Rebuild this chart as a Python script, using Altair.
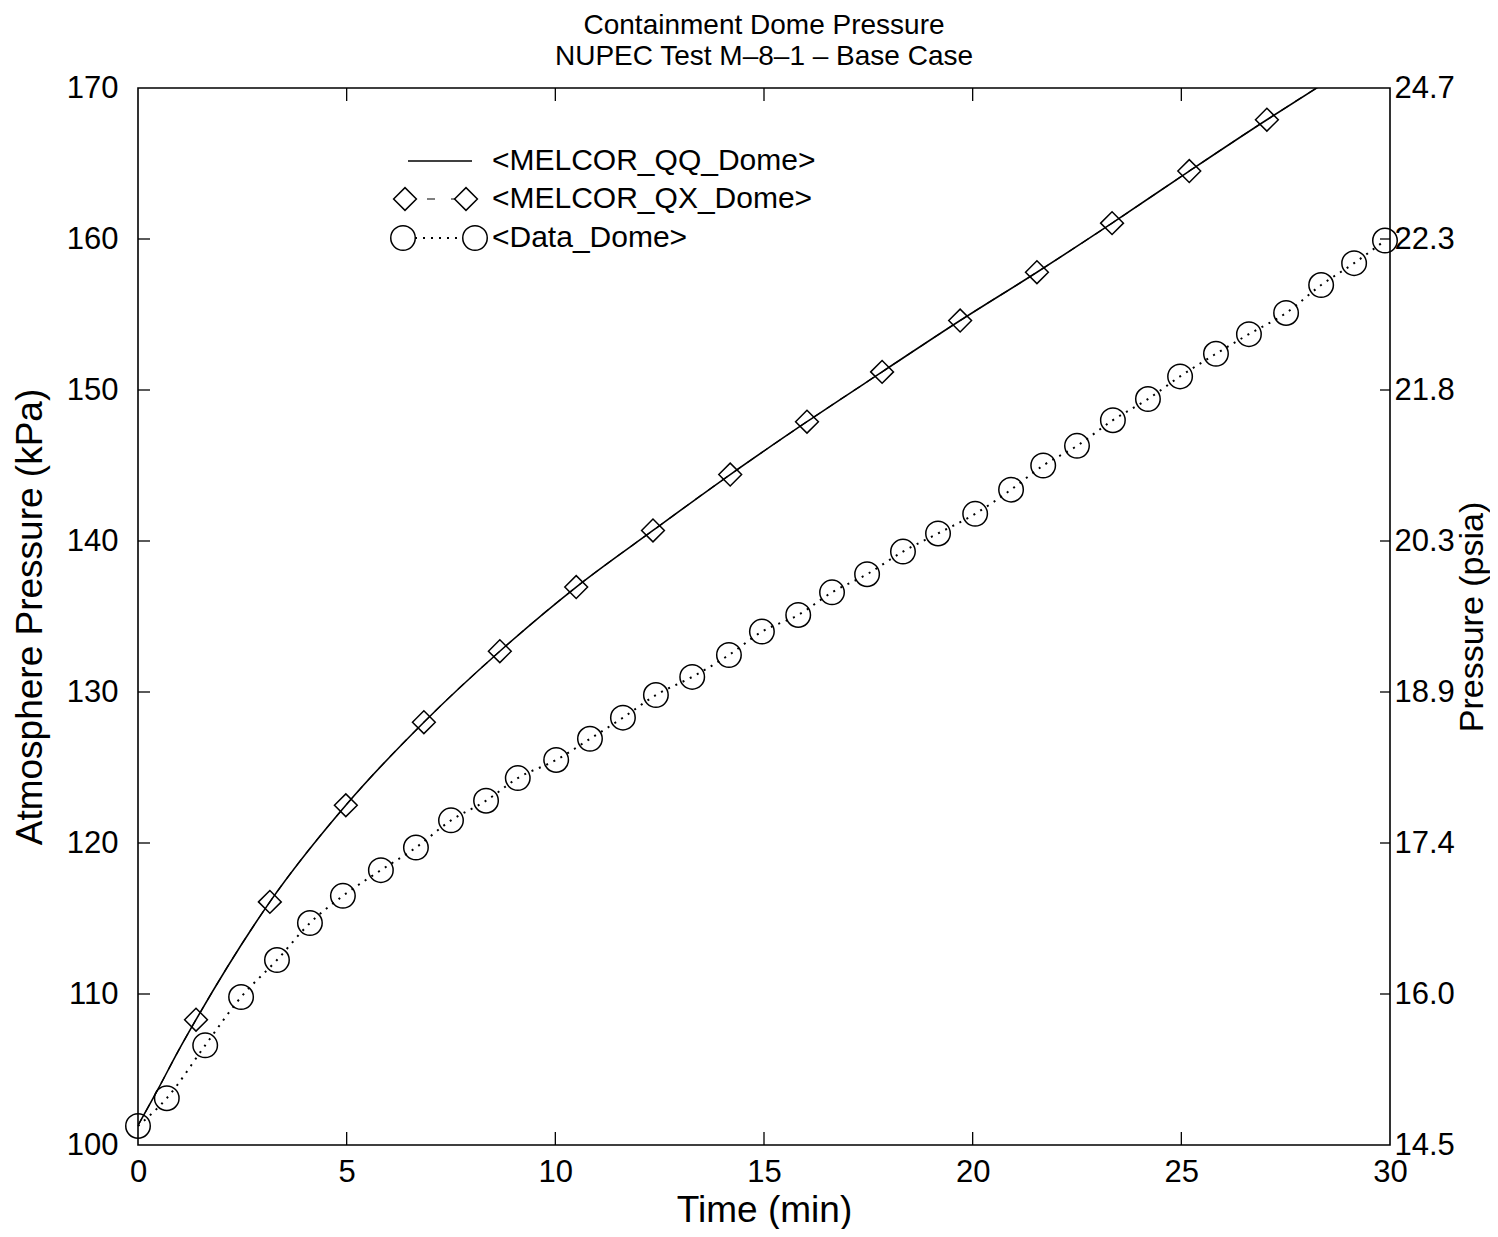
import json
import altair as alt
import pandas as pd

# ---------------- data ----------------
qq_time = [0.0, 0.48, 0.96, 1.39, 3.16, 4.98, 6.85, 8.67, 10.5, 12.34, 14.19,
           16.03, 17.83, 19.7, 21.54, 23.34, 25.19, 27.05, 28.3]
qq_kpa = [101.3, 103.7, 106.2, 108.3, 116.1, 122.5, 128.0, 132.7, 136.95, 140.7,
          144.4, 147.9, 151.2, 154.6, 157.8, 161.05, 164.5, 167.9, 170.1]

qx_time = [1.39, 3.16, 4.98, 6.85, 8.67, 10.5, 12.34, 14.19, 16.03, 17.83,
           19.7, 21.54, 23.34, 25.19, 27.05]
qx_kpa = [108.3, 116.1, 122.5, 128.0, 132.7, 136.95, 140.7, 144.4, 147.9, 151.2,
          154.6, 157.8, 161.05, 164.5, 167.9]

data_time = [0.0, 0.69, 1.61, 2.47, 3.33, 4.12, 4.91, 5.82, 6.66, 7.5, 8.34, 9.1,
             10.02, 10.83, 11.62, 12.41, 13.28, 14.16, 14.95, 15.82, 16.63, 17.47,
             18.33, 19.17, 20.06, 20.92, 21.69, 22.5, 23.36, 24.2, 24.97, 25.83,
             26.62, 27.51, 28.35, 29.14, 29.88]
data_kpa = [101.26, 103.1, 106.6, 109.8, 112.25, 114.7, 116.5, 118.2, 119.7, 121.5,
            122.8, 124.3, 125.5, 126.9, 128.3, 129.8, 131.0, 132.45, 134.0, 135.1,
            136.6, 137.8, 139.3, 140.5, 141.8, 143.4, 145.0, 146.3, 148.0, 149.4,
            150.9, 152.4, 153.7, 155.1, 156.95, 158.4, 159.9]

x_label_values = [0, 5, 10, 15, 20, 25, 30]
x_inner_ticks = [5, 10, 15, 20, 25]
kpa_label_values = [100, 110, 120, 130, 140, 150, 160, 170]
kpa_inner_ticks = [110, 120, 130, 140, 150, 160]
psia_labels = ["14.5", "16.0", "17.4", "18.9", "20.3", "21.8", "22.3", "24.7"]

series_names = ["<MELCOR_QQ_Dome>", "<MELCOR_QX_Dome>", "<Data_Dome>"]
title_lines = ["Containment Dome Pressure", "NUPEC Test M\u20138\u20131 \u2013 Base Case"]

# ---------------- layout / style ----------------
W, H = 1252, 1057
FONT = "Liberation Sans"

qq_df = pd.DataFrame({"t": qq_time, "p": qq_kpa})
qx_df = pd.DataFrame({"t": qx_time, "p": qx_kpa})
qxline_df = pd.DataFrame({"t": qq_time, "p": qq_kpa})
dd_df = pd.DataFrame({"t": data_time, "p": data_kpa})
xt_df = pd.DataFrame({"v": x_inner_ticks})
yt_df = pd.DataFrame({"v": kpa_inner_ticks})
one = pd.DataFrame({"d": [0]})

xs = alt.Scale(domain=[0, 30], nice=False, zero=False)
ys = alt.Scale(domain=[100, 170], nice=False, zero=False)

x_axis = alt.Axis(values=x_label_values, title="Time (min)", tickSize=0, domain=False,
                  grid=False, labelFontSize=31, titleFontSize=37, labelPadding=12,
                  titlePadding=5, labelFlush=False, labelOverlap=False, format="d",
                  labelFont=FONT, titleFont=FONT, labelColor="black", titleColor="black",
                  titleFontWeight="normal")
y_axis = alt.Axis(values=kpa_label_values, title="Atmosphere Pressure (kPa)", tickSize=0,
                  domain=False, grid=False, labelFontSize=31, titleFontSize=37,
                  labelPadding=20, titlePadding=17, labelOverlap=False, format="d",
                  labelFont=FONT, titleFont=FONT, labelColor="black", titleColor="black",
                  titleFontWeight="normal")
psia_expr = json.dumps(psia_labels) + "[round((datum.value-100)/10)]"
y_axis_r = alt.Axis(orient="right", values=kpa_label_values, labelExpr=psia_expr,
                    title="Pressure (psia)", tickSize=0, domain=False, grid=False,
                    labelFontSize=31, titleFontSize=34, labelPadding=4, titlePadding=35,
                    titleAngle=270, labelOverlap=False,
                    labelFont=FONT, titleFont=FONT, labelColor="black", titleColor="black",
                    titleFontWeight="normal")

X = alt.X("t:Q", scale=xs, axis=x_axis)

qq_line = alt.Chart(qq_df).mark_line(color="black", strokeWidth=1.6, clip=True,
                                     interpolate="monotone").encode(
    x=X, y=alt.Y("p:Q", scale=ys, axis=y_axis),
)
qx_line = alt.Chart(qxline_df).mark_line(color="black", strokeWidth=1.2, clip=True,
                                         strokeDash=[8, 8], interpolate="monotone").encode(
    x=X, y=alt.Y("p:Q", scale=ys, axis=None),
)
qx_pts = alt.Chart(qx_df).mark_point(shape="diamond", filled=False, size=520,
                                     color="black", strokeWidth=1.5, opacity=1).encode(
    x=X, y=alt.Y("p:Q", scale=ys, axis=None),
)
dd_line = alt.Chart(dd_df).mark_line(color="black", strokeWidth=2, strokeDash=[2, 6],
                                     interpolate="monotone").encode(
    x=X, y=alt.Y("p:Q", scale=ys, axis=None),
)
dd_pts = alt.Chart(dd_df).mark_point(shape="circle", filled=False, size=600,
                                     color="black", strokeWidth=1.5, opacity=1).encode(
    x=X, y=alt.Y("p:Q", scale=ys, axis=None),
)

# inward ticks
tick_style = dict(color="black", strokeWidth=1.3)
xt_bottom = alt.Chart(xt_df).mark_rule(**tick_style).encode(
    x=alt.X("v:Q", scale=xs, axis=x_axis), y=alt.value(H), y2=alt.value(H - 13))
xt_top = alt.Chart(xt_df).mark_rule(**tick_style).encode(
    x=alt.X("v:Q", scale=xs, axis=x_axis), y=alt.value(0), y2=alt.value(13))
yt_left = alt.Chart(yt_df).mark_rule(**tick_style).encode(
    y=alt.Y("v:Q", scale=ys, axis=None), x=alt.value(0), x2=alt.value(12))
yt_right = alt.Chart(yt_df).mark_rule(**tick_style).encode(
    y=alt.Y("v:Q", scale=ys, axis=y_axis_r), x=alt.value(W), x2=alt.value(W - 10))

# legend (drawn by hand, positioned in pixels)
LX_TEXT = 354
rows_y = [73, 111, 150]
leg = []
leg.append(alt.Chart(one).mark_rule(color="black", strokeWidth=1.4).encode(
    x=alt.value(270), x2=alt.value(334), y=alt.value(rows_y[0])))
leg.append(alt.Chart(one).mark_rule(color="black", strokeWidth=1.2, strokeDash=[8, 16],
                                    strokeDashOffset=-10).encode(
    x=alt.value(279), x2=alt.value(317), y=alt.value(rows_y[1])))
for lx in (267, 328):
    leg.append(alt.Chart(one).mark_point(shape="diamond", filled=False, size=520,
                                         color="black", strokeWidth=1.5, opacity=1).encode(
        x=alt.value(lx), y=alt.value(rows_y[1])))
leg.append(alt.Chart(one).mark_rule(color="black", strokeWidth=2, strokeDash=[2, 6]).encode(
    x=alt.value(277), x2=alt.value(325), y=alt.value(rows_y[2])))
for lx in (265, 337):
    leg.append(alt.Chart(one).mark_point(shape="circle", filled=False, size=600,
                                         color="black", strokeWidth=1.5, opacity=1).encode(
        x=alt.value(lx), y=alt.value(rows_y[2])))
for name, ry in zip(series_names, rows_y):
    leg.append(alt.Chart(one).mark_text(align="left", baseline="middle", fontSize=30,
                                        font=FONT, color="black").encode(
        x=alt.value(LX_TEXT), y=alt.value(ry), text=alt.value(name)))

chart = alt.layer(
    qq_line, qx_line, qx_pts, dd_line, dd_pts,
    xt_bottom, xt_top, yt_left, yt_right, *leg
).resolve_scale(y="independent").properties(
    width=W, height=H,
    background="white",
    autosize=alt.AutoSizeParams(type="none"),
    padding={"left": 130, "top": 80, "right": 100, "bottom": 84},
    title=alt.TitleParams(title_lines, fontSize=28, font=FONT, fontWeight="normal",
                          anchor="middle", frame="group", offset=1, lineHeight=31,
                          color="black"),
).configure_view(stroke="black", strokeWidth=1.6)

chart.save("out.html", embed_options={"renderer": "svg", "actions": False})
